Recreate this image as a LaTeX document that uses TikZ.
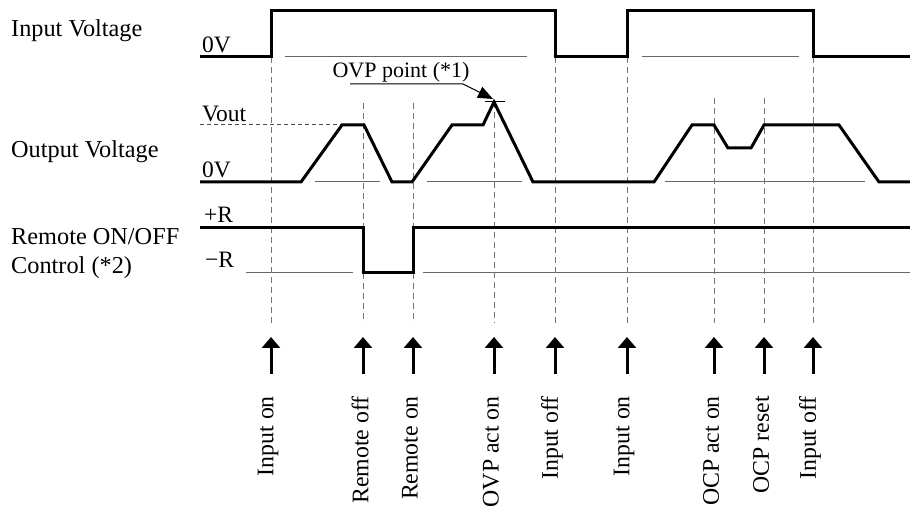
\documentclass[tikz,border=0pt]{standalone}
\usepackage{fontspec}
\setmainfont{Liberation Serif}
\usetikzlibrary{arrows.meta}
\begin{document}
\begin{tikzpicture}[x=1pt,y=-1pt,
  wave/.style={line width=3pt, line join=miter},
  basel/.style={line width=1pt, draw=black!60},
  guide/.style={line width=1pt, draw=black!55, dash pattern=on 6pt off 4pt},
  vdash/.style={line width=1pt, draw=black!70, dash pattern=on 4pt off 3pt},
  lbl/.style={inner sep=0pt, anchor=base west, font=\fontsize{23.5}{28}\selectfont},
  rowlbl/.style={inner sep=0pt, anchor=base west, font=\fontsize{24.3}{29}\selectfont},
  evt/.style={inner sep=0pt, anchor=east, rotate=90, font=\fontsize{23.8}{28}\selectfont},
  evarrow/.style={line width=3pt, -{Triangle[width=18pt,length=11pt]}},
]
\useasboundingbox (0,0) rectangle (910,510);

% row labels
\node[rowlbl] (lin) at (11,37) {Input Voltage};
\node[rowlbl] (lout) at (11,158) {Output Voltage};
\node[rowlbl] (lrem1) at (11,245) {Remote ON/OFF};
\node[rowlbl] (lrem2) at (11,274) {Control (*2)};
\node[lbl] (l0a) at (202,53) {0V};
\node[lbl] (lvout) at (202,122) {Vout};
\node[lbl] (l0b) at (202,178) {0V};
\node[lbl] (lpr) at (204,223) {+R};
\node[lbl] (lmr) at (205,268) {−R};

% reference baselines
\draw[basel] (285,57)--(527,57);
\draw[basel] (642,57)--(799,57);
\draw[basel] (315,182)--(380,182);
\draw[basel] (427,182)--(522,182);
\draw[basel] (665,182)--(865,182);
\draw[basel] (246,273)--(353,273);
\draw[basel] (423,273)--(910,273);
\draw[vdash] (200,125)--(342,125);

% guides
\foreach \x/\y in {271/57, 363/103, 413/103, 494/102, 555/57, 627/57, 714/98, 764/98, 813/57}
  \draw[guide] (\x,\y)--(\x,323);

% waveforms
\draw[wave] (200,57) -- (271,57) -- (271,11) -- (555,11) -- (555,57) -- (627,57) -- (627,11) -- (813,11) -- (813,57) -- (910,57);
\draw[wave] (200,182) -- (301,182) -- (342,125) -- (364,125) -- (392,182) -- (412,182) -- (452,125) -- (483,125) -- (494,102) -- (533,182) -- (654,182) -- (692,125) -- (714,125) -- (728,148) -- (751,148) -- (764,125) -- (839,125) -- (879,182) -- (910,182);
\draw[wave] (200,228) -- (363,228) -- (363,273) -- (413,273) -- (413,228) -- (910,228);

% OVP point
\node[inner sep=0pt, anchor=base, font=\fontsize{22}{26}\selectfont] (ovp) at (401,78) {OVP point (*1)};
\coordinate (ovpa) at (350,84);
\coordinate (ovpb) at (463,84);
\coordinate (ovpc) at (493,99);
\draw[line width=1pt, -{Triangle[width=12pt,length=15pt]}] (ovpa) -- (ovpb) -- (ovpc);
\draw[line width=1pt] (485,102) -- (505,102);

% events
\foreach \x/\t [count=\i] in {271/Input on, 363/Remote off, 413/Remote on, 494/OVP act on, 555/Input off, 627/Input on, 714/OCP act on, 764/OCP reset, 813/Input off}{
  \coordinate (ea\i) at (\x,374);
  \coordinate (eb\i) at (\x,337);
  \draw[evarrow] (ea\i) -- (eb\i);
  \node[evt] (et\i) at (\x-3,396) {\t};
}
\end{tikzpicture}
\end{document}
